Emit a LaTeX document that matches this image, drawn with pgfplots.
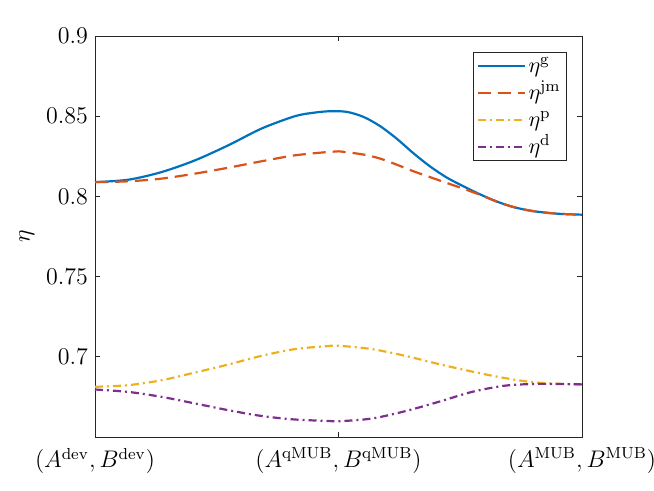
\documentclass[border=0pt]{standalone}
\usepackage{pgfplots}
\pgfplotsset{compat=1.18}
\definecolor{mblue}{rgb}{0,0.4470,0.7410}
\definecolor{mred}{rgb}{0.8500,0.3250,0.0980}
\definecolor{myellow}{rgb}{0.9290,0.6940,0.1250}
\definecolor{mpurple}{rgb}{0.4940,0.1840,0.5560}
\definecolor{axgray}{rgb}{0.15,0.15,0.15}
\begin{document}
\begin{tikzpicture}
\useasboundingbox (-47.5pt,-27pt) rectangle (279.5pt,218.5pt);
\begin{axis}[
  scale only axis,
  width=243.5pt, height=200.5pt,
  at={(0,0)}, anchor=south west,
  xmin=0, xmax=2, ymin=0.65, ymax=0.9,
  xtick={0,1,2},
  xticklabels={{$(A^{\mathrm{dev}},B^{\mathrm{dev}})$},{$(A^{\mathrm{qMUB}},B^{\mathrm{qMUB}})$},{$(A^{\mathrm{MUB}},B^{\mathrm{MUB}})$}},
  xticklabel style={yshift=-2pt},
  ytick={0.7,0.75,0.8,0.85,0.9},
  yticklabel style={/pgf/number format/fixed,/pgf/number format/precision=2},
  tick label style={font=\fontsize{11.5}{13}\selectfont},
  tick align=inside,
  major tick length=2.5pt,
  axis line style={axgray, line width=0.4pt},
  every tick/.style={axgray, line width=0.4pt},
  ylabel={$\eta$},
  ylabel style={font=\fontsize{13}{15}\selectfont, at={(axis description cs:-0.14,0.5)}, anchor=center},
  legend style={at={(1,1)}, anchor=north east, xshift=-7.5pt, yshift=-8pt,
    draw=axgray, line width=0.4pt, font=\fontsize{11}{13}\selectfont,
    row sep=4pt, inner xsep=1.8pt, inner ysep=2pt,
    nodes={text height=8pt, text depth=1.5pt, inner xsep=1.2pt, inner ysep=0pt}},
  legend cell align=left,
  legend image code/.code={\draw[#1] (0pt,0pt) -- (23.5pt,0pt);},
]
\addplot[mblue, line width=1.1pt, smooth] coordinates {
(0,0.8089) (0.137,0.8104) (0.274,0.8152) (0.411,0.8225) (0.548,0.8319)
(0.684,0.8423) (0.821,0.8500) (0.90,0.8522) (0.965,0.8531) (1.034,0.8527)
(1.102,0.8496) (1.170,0.8439) (1.239,0.8360) (1.307,0.8270) (1.376,0.8187)
(1.444,0.8118) (1.513,0.8063) (1.581,0.8013) (1.65,0.7968) (1.72,0.7933)
(1.80,0.7908) (1.90,0.7892) (2.0,0.7886)};
\addlegendentry{$\eta^{\mathrm{g}}$}
\addplot[mred, line width=1.1pt, smooth, dash pattern=on 6.5pt off 3.5pt] coordinates {
(0,0.8089) (0.137,0.8094) (0.274,0.8111) (0.411,0.8142) (0.548,0.8179)
(0.684,0.8219) (0.821,0.8256) (0.958,0.8277) (1.0,0.8281) (1.102,0.8261)
(1.170,0.8236) (1.239,0.8198) (1.307,0.8157) (1.376,0.8120) (1.444,0.8084)
(1.513,0.8048) (1.581,0.8010) (1.65,0.7968) (1.72,0.7933)
(1.80,0.7908) (1.90,0.7892) (2.0,0.7886)};
\addlegendentry{$\eta^{\mathrm{jm}}$}
\addplot[myellow, line width=1.1pt, smooth, dash pattern=on 4pt off 2pt on 1pt off 2pt] coordinates {
(0,0.6813) (0.137,0.6823) (0.274,0.6854) (0.411,0.6902) (0.548,0.6952)
(0.684,0.7006) (0.821,0.7048) (0.958,0.7067) (1.0,0.7069) (1.137,0.7048)
(1.274,0.7006) (1.411,0.6955) (1.548,0.6908) (1.684,0.6867) (1.821,0.6838)
(2.0,0.6827)};
\addlegendentry{$\eta^{\mathrm{p}}$}
\addplot[mpurple, line width=1.1pt, smooth, dash pattern=on 4pt off 2pt on 1pt off 2pt] coordinates {
(0,0.6796) (0.137,0.6781) (0.274,0.6750) (0.411,0.6709) (0.548,0.6667)
(0.684,0.6631) (0.821,0.6609) (0.958,0.6600) (1.0,0.6598) (1.137,0.6615)
(1.274,0.6661) (1.411,0.6719) (1.548,0.6781) (1.684,0.6820) (1.821,0.6831)
(2.0,0.6828)};
\addlegendentry{$\eta^{\mathrm{d}}$}
\end{axis}
\end{tikzpicture}
\end{document}
